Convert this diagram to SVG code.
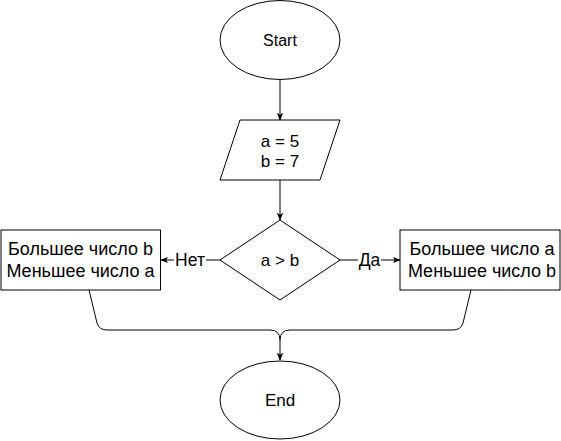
<svg xmlns="http://www.w3.org/2000/svg" width="561" height="441" viewBox="0 0 561 441">
<style>
.s{fill:#fff;stroke:#000;stroke-width:1}
.t{font-family:"Liberation Sans",Arial,sans-serif;font-size:17px;fill:#000;text-anchor:middle}
.b{font-size:18px}
.e{fill:none;stroke:#000;stroke-width:1}
</style>
<defs>
<marker id="a" viewBox="0 0 10 10" refX="9" refY="5" markerWidth="8" markerHeight="8" markerUnits="userSpaceOnUse" orient="auto">
<path d="M0,1 L10,5 L0,9 L2.5,5 Z" fill="#000"/>
</marker>
</defs>
<rect width="561" height="441" fill="#fff"/>
<g id="connectors">
<path class="e" d="M280,80 V120" marker-end="url(#a)"/>
<path class="e" d="M280,180 V220" marker-end="url(#a)"/>
<path class="e" d="M220,260 H161" marker-end="url(#a)"/>
<path class="e" d="M340,260 H400" marker-end="url(#a)"/>
<path class="e" d="M89,290 L97,323 Q99,330 107,330 H270 Q280,330 280,340 V360" marker-end="url(#a)"/>
<path class="e" d="M471,290 L463,323 Q461,330 453,330 H290 Q280,330 280,340"/>
<rect x="174" y="251" width="32" height="18" fill="#fff"/>
<text class="t" x="190" y="265.5" style="font-size:17.5px">Нет</text>
<rect x="358" y="251" width="23" height="18" fill="#fff"/>
<text class="t" x="369.5" y="265.5" style="font-size:17.5px">Да</text>
</g>
<g id="start">
<ellipse class="s" cx="280" cy="40" rx="60" ry="39.5"/>
<text class="t" x="280" y="46" style="font-size:16px">Start</text>
</g>
<g id="input">
<polygon class="s" points="240,120 340,120 320,180 220,180"/>
<text class="t" x="280" y="146.5">a = 5</text>
<text class="t" x="280" y="166.5">b = 7</text>
</g>
<g id="decision">
<polygon class="s" points="280,220 340,260 280,300 220,260"/>
<text class="t" x="280" y="265.5">a &gt; b</text>
</g>
<g id="no">
<rect class="s" x="1" y="230" width="159.5" height="60"/>
<text class="t b" x="80.5" y="255">Большее число b</text>
<text class="t b" x="80.5" y="276.5">Меньшее число a</text>
</g>
<g id="yes">
<rect class="s" x="400" y="230" width="160" height="60"/>
<text class="t b" x="482" y="255">Большее число a</text>
<text class="t b" x="482" y="276.5">Меньшее число b</text>
</g>
<g id="end">
<ellipse class="s" cx="280" cy="400" rx="60" ry="39"/>
<text class="t" x="280" y="406">End</text>
</g>
</svg>
